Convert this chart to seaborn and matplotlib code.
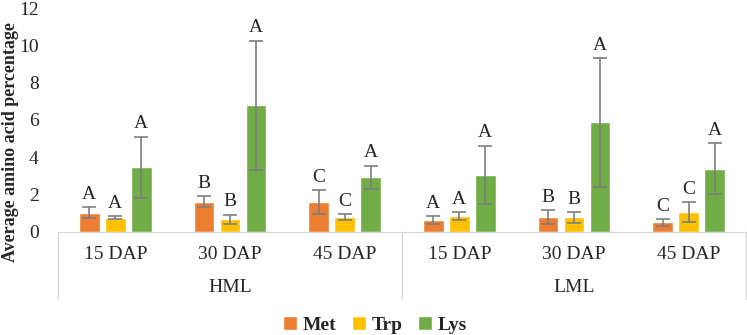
import seaborn as sns
import matplotlib.pyplot as plt
import pandas as pd

# values
groups = ['HML', 'HML', 'HML', 'LML', 'LML', 'LML']
stages = ['15 DAP', '30 DAP', '45 DAP', '15 DAP', '30 DAP', '45 DAP']
acids = ['Met', 'Trp', 'Lys']

met = [1.02, 1.62, 1.60, 0.64, 0.79, 0.50]
met_err = [0.30, 0.27, 0.63, 0.21, 0.36, 0.17]
trp = [0.74, 0.67, 0.79, 0.85, 0.77, 1.05]
trp_err = [0.08, 0.25, 0.15, 0.22, 0.30, 0.52]
lys = [3.46, 6.78, 2.92, 3.06, 5.87, 3.39]
lys_err = [1.65, 3.48, 0.63, 1.56, 3.45, 1.38]

met_letters = ['A', 'B', 'C', 'A', 'B', 'C']
trp_letters = ['A', 'B', 'C', 'A', 'B', 'C']
lys_letters = ['A', 'A', 'A', 'A', 'A', 'A']

colors = ['#ED7D31', '#FFC000', '#70AD47']

keys = [g + ' ' + s for g, s in zip(groups, stages)]
values = {'Met': met, 'Trp': trp, 'Lys': lys}
errors = {'Met': met_err, 'Trp': trp_err, 'Lys': lys_err}
letters = {'Met': met_letters, 'Trp': trp_letters, 'Lys': lys_letters}

rows = []
for acid in acids:
    for k, v in zip(keys, values[acid]):
        rows.append({'key': k, 'acid': acid, 'value': v})
df = pd.DataFrame(rows)

sns.set_style('white')
plt.rcParams['font.family'] = ['Liberation Serif', 'DejaVu Serif']

fig = plt.figure(figsize=(7.47, 3.35), dpi=100)
ax = fig.add_axes([0.0776, 0.3084, 0.921, 0.667])

sns.barplot(data=df, x='key', y='value', hue='acid', order=keys,
            hue_order=acids, palette=colors, width=0.68, gap=0.21,
            errorbar=None, saturation=1, ax=ax)

# error bars and significance letters
for acid, cont in zip(acids, ax.containers):
    for i, bar in enumerate(cont):
        x = bar.get_x() + bar.get_width() / 2
        y = bar.get_height()
        e = errors[acid][i]
        ax.errorbar(x, y, yerr=e, fmt='none', ecolor='#7F7F7F',
                    elinewidth=1.2, capsize=5, capthick=1.2)
        ax.annotate(letters[acid][i], (x, y + e), xytext=(0, 3),
                    textcoords='offset points', ha='center', va='bottom',
                    fontsize=14)

ax.set_ylim(0, 12)
ax.set_yticks(range(0, 13, 2))
ax.set_xlim(-0.5, 5.5)
ax.set_xticks(range(6))
ax.set_xticklabels(stages)
ax.tick_params(axis='x', length=0, pad=10, labelsize=14)
ax.tick_params(axis='y', length=0, pad=14, labelsize=14)
ax.set_xlabel('')
ax.set_ylabel('Average amino acid percentage', fontsize=13, fontweight='bold')
ax.yaxis.set_label_coords(-0.057, 0.40)

for s in ['left', 'top', 'right']:
    ax.spines[s].set_visible(False)
ax.spines['bottom'].set_color('#D9D9D9')

# two level category axis
trans = ax.get_xaxis_transform()
for xs in [-0.5, 2.5, 5.5]:
    ax.plot([xs, xs], [0, -0.30], color='#D9D9D9', lw=1,
            transform=trans, clip_on=False)
ax.text(1, -0.252, 'HML', transform=trans, ha='center', va='center', fontsize=14)
ax.text(4, -0.252, 'LML', transform=trans, ha='center', va='center', fontsize=14)

handles, labels = ax.get_legend_handles_labels()
ax.legend_.remove()
fig.legend(handles, labels, loc='center', bbox_to_anchor=(0.502, 0.03),
           ncol=3, frameon=False, handlelength=0.7, handleheight=0.7,
           handletextpad=0.3, columnspacing=0.8,
           prop={'weight': 'bold', 'size': 14})

fig.savefig('out.png', dpi=100)
